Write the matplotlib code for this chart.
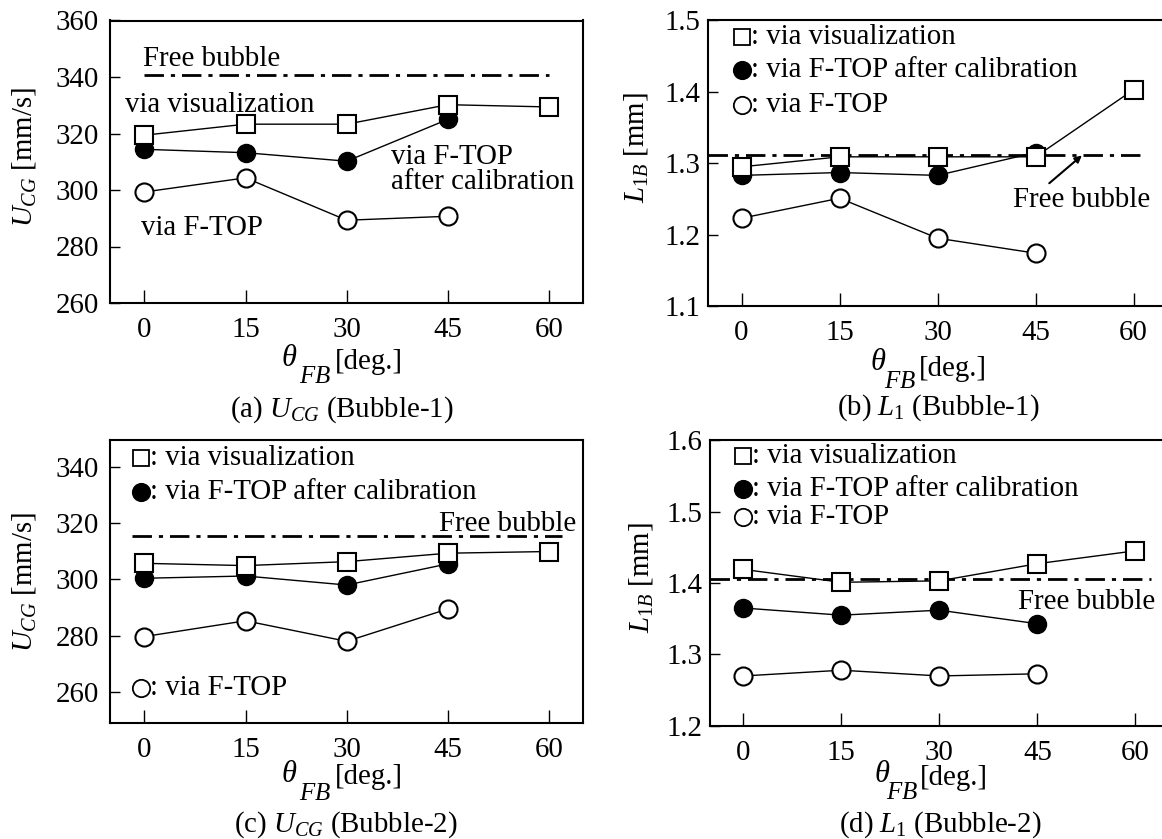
import matplotlib
matplotlib.use("Agg")
import matplotlib.pyplot as plt

plt.rcParams["font.family"] = ["Liberation Serif", "DejaVu Serif"]
plt.rcParams["mathtext.fontset"] = "custom"
plt.rcParams["mathtext.rm"] = "Liberation Serif"
plt.rcParams["mathtext.it"] = "Liberation Serif:italic"
plt.rcParams["mathtext.bf"] = "Liberation Serif:bold"

# Data
theta = [0, 15, 30, 45, 60]
theta_ftop = [0, 15, 30, 45]

# (a) U_CG, Bubble-1 [mm/s]
a_vis = [319.4, 323.3, 323.3, 330.2, 329.4]
a_cal = [314.4, 313.2, 310.2, 325.0]
a_ftop = [299.3, 304.3, 289.3, 290.7]
a_free = 340.6

# (b) L_1B, Bubble-1 [mm]
b_vis = [1.295, 1.309, 1.309, 1.309, 1.403]
b_cal = [1.283, 1.287, 1.283, 1.315]
b_ftop = [1.223, 1.251, 1.195, 1.174]
b_free = 1.311

# (c) U_CG, Bubble-2 [mm/s]
c_vis = [305.7, 304.9, 306.3, 309.3, 309.9]
c_cal = [300.4, 301.2, 298.0, 305.5]
c_ftop = [279.7, 285.3, 278.0, 289.5]
c_free = 315.4

# (d) L_1B, Bubble-2 [mm]
d_vis = [1.419, 1.401, 1.403, 1.427, 1.445]
d_cal = [1.365, 1.355, 1.362, 1.343]
d_ftop = [1.270, 1.278, 1.270, 1.273]
d_free = 1.405

W, H = 1162, 839
fig = plt.figure(figsize=(W / 100, H / 100), dpi=100)


def px_axes(l, t, r, b):
    return fig.add_axes([l / W, 1 - b / H, (r - l) / W, (b - t) / H])


def ftext(x, y, s, **kw):
    fig.text(x / W, 1 - y / H, s, **kw)


FS = 20.8
dash = (0, (7, 2.5, 1.5, 2.5))


def style(ax, ylim, yticks, ypad):
    ax.set_xlim(-5.1, 65)
    ax.set_ylim(*ylim)
    ax.set_xticks(theta)
    ax.set_yticks(yticks)
    ax.tick_params(axis="x", direction="in", length=9.5, width=1, pad=10,
                   labelsize=FS, top=False)
    ax.tick_params(axis="y", direction="in", length=7, width=1, pad=ypad,
                   labelsize=FS, right=False)
    for sp in ax.spines.values():
        sp.set_linewidth(1.5)


def series(ax, vis, cal, ftop):
    ax.plot(theta_ftop, ftop, "-o", color="black", lw=1, ms=13, mfc="white",
            mec="black", mew=1.5, zorder=3)
    ax.plot(theta_ftop, cal, "-o", color="black", lw=1, ms=13, mfc="black",
            mec="black", zorder=4)
    ax.plot(theta, vis, "-s", color="black", lw=1, ms=12.5, mfc="white",
            mec="black", mew=1.5, zorder=5)


def legend_row(ax, x, y, marker, fill, label):
    ax.plot([x], [y], marker=marker, ms=12.5 if marker == "o" else 12,
            mfc=fill, mec="black", mew=1.3, ls="none", clip_on=False)
    ax.text(x + 1.4, y, ": " + label, fontsize=FS, va="center", ha="left")


def xlabel(cx, y_theta, fb_x, fb_y, deg_x, deg_y):
    ftext(cx, y_theta, r"$\theta$", fontsize=22, ha="center", va="center")
    ftext(fb_x, fb_y, r"$FB$", fontsize=18, ha="center", va="center")
    ftext(deg_x, deg_y, "[deg.]", fontsize=FS, ha="left", va="center")


# (a)
ax = px_axes(110, 20.5, 582.7, 303)
style(ax, (260, 360), [260, 280, 300, 320, 340, 360], 8)
series(ax, a_vis, a_cal, a_ftop)
ax.plot([0, 60], [a_free, a_free], color="black", lw=2, ls=dash)
ax.text(-0.2, 346.5, "Free bubble", fontsize=FS, va="center")
ax.text(-2.9, 330, "via visualization", fontsize=FS, va="center")
ax.text(36.5, 307.4, "via F-TOP\nafter calibration", fontsize=FS, va="center",
        linespacing=0.95)
ax.text(-0.5, 286.4, "via F-TOP", fontsize=FS, va="center")
ftext(24, 157, r"$U_{CG}$ [mm/s]", fontsize=FS, rotation=90, ha="center", va="center")
xlabel(289, 358, 315, 377, 335, 362)
ftext(342, 410, r"(a) $U_{CG}$ (Bubble-1)", fontsize=FS, ha="center", va="center")

# (b)
ax = px_axes(708.3, 20.5, 1166.2, 306)
style(ax, (1.1, 1.5), [1.1, 1.2, 1.3, 1.4, 1.5], 5.5)
ax.set_yticklabels(["1.1", "1.2", "1.3", "1.4", "1.5"])
ax.plot([-5.1, 61.5], [b_free, b_free], color="black", lw=2, ls=dash, zorder=2)
series(ax, b_vis, b_cal, b_ftop)
legend_row(ax, 0, 1.477, "s", "white", "via visualization")
legend_row(ax, 0, 1.430, "o", "black", "via F-TOP after calibration")
legend_row(ax, 0, 1.381, "o", "white", "via F-TOP")
ax.annotate("", xy=(52.1, b_free), xytext=(47.1, 1.272),
            arrowprops=dict(arrowstyle="-|>", color="black", lw=1.5,
                            mutation_scale=10, shrinkA=0, shrinkB=0))
ax.text(62.5, 1.248, "Free bubble", fontsize=FS, va="center", ha="right")
ftext(636, 148, r"$L_{\mathit{1B}}$ [mm]", fontsize=FS, rotation=90, ha="center", va="center")
xlabel(878, 363, 900, 382, 919, 369)
ftext(938, 408, r"(b) $L_{\mathit{1}}$ (Bubble-1)", fontsize=FS, ha="center", va="center")

# (c)
ax = px_axes(110, 440, 582.7, 723)
style(ax, (249, 349.5), [260, 280, 300, 320, 340], 8)
ax.plot([-1.8, 61.9], [c_free, c_free], color="black", lw=2, ls=dash, zorder=2)
series(ax, c_vis, c_cal, c_ftop)
legend_row(ax, -0.5, 343, "s", "white", "via visualization")
legend_row(ax, -0.5, 331.1, "o", "black", "via F-TOP after calibration")
legend_row(ax, -0.5, 261.4, "o", "white", "via F-TOP")
ax.text(64, 319.8, "Free bubble", fontsize=FS, va="center", ha="right")
ftext(24, 582, r"$U_{CG}$ [mm/s]", fontsize=FS, rotation=90, ha="center", va="center")
xlabel(289, 775, 315, 794, 335, 777)
ftext(346, 825, r"(c) $U_{CG}$ (Bubble-2)", fontsize=FS, ha="center", va="center")

# (d)
ax = px_axes(710, 440, 1168, 726)
style(ax, (1.2, 1.6), [1.2, 1.3, 1.4, 1.5, 1.6], 5.5)
ax.set_yticklabels(["1.2", "1.3", "1.4", "1.5", "1.6"])
ax.plot([-5.1, 62.4], [d_free, d_free], color="black", lw=2, ls=dash, zorder=2)
series(ax, d_vis, d_cal, d_ftop)
legend_row(ax, -0.1, 1.577, "s", "white", "via visualization")
legend_row(ax, -0.1, 1.532, "o", "black", "via F-TOP after calibration")
legend_row(ax, -0.1, 1.493, "o", "white", "via F-TOP")
ax.text(63, 1.374, "Free bubble", fontsize=FS, va="center", ha="right")
ftext(641, 578, r"$L_{\mathit{1B}}$ [mm]", fontsize=FS, rotation=90, ha="center", va="center")
xlabel(882, 774, 902, 793, 920, 778)
ftext(940, 825, r"(d) $L_{\mathit{1}}$ (Bubble-2)", fontsize=FS, ha="center", va="center")

fig.savefig("out.png", dpi=100)
